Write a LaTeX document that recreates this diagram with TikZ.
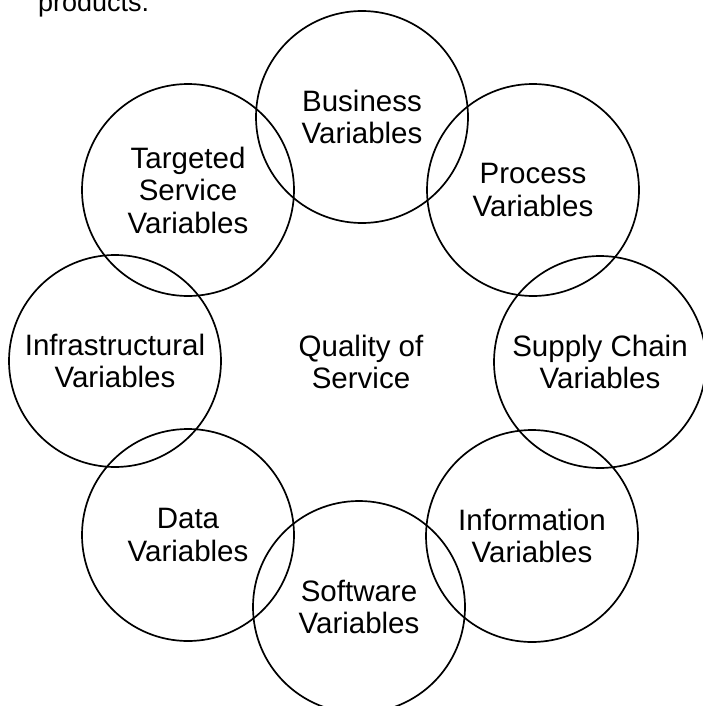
\documentclass[tikz,border=0pt]{standalone}
\usepackage{fontspec}
\setmainfont{Liberation Sans}
\begin{document}
\begin{tikzpicture}[x=1pt,y=-1pt,
  var/.style={circle, draw, line width=1.7pt, minimum size=212pt, inner sep=0pt,
    align=center, font=\fontsize{29.5}{32.5}\selectfont},
  plain/.style={inner sep=0pt, align=center, font=\fontsize{29.5}{32.5}\selectfont}]
\useasboundingbox (0,0) rectangle (703,706);
\node[anchor=base west, inner sep=0pt, font=\fontsize{27}{30}\selectfont] (prod) at (38,12) {products.};
\node[var] (bus) at (362,117) {Business\\Variables};
\node[var] (proc) at (533,190) {Process\\Variables};
\node[var] (sup) at (600,362) {Supply Chain\\Variables};
\node[var] (info) at (532,536) {Information\\Variables};
\node[var] (soft) at (359,607) {Software\\Variables};
\node[var] (data) at (188,535) {Data\\Variables};
\node[var] (infra) at (115,361) {Infrastructural\\Variables};
\node[var] (targ) at (188,190) {Targeted\\Service\\Variables};
\node[plain] (qos) at (361,362) {Quality of\\Service};
\end{tikzpicture}
\end{document}
